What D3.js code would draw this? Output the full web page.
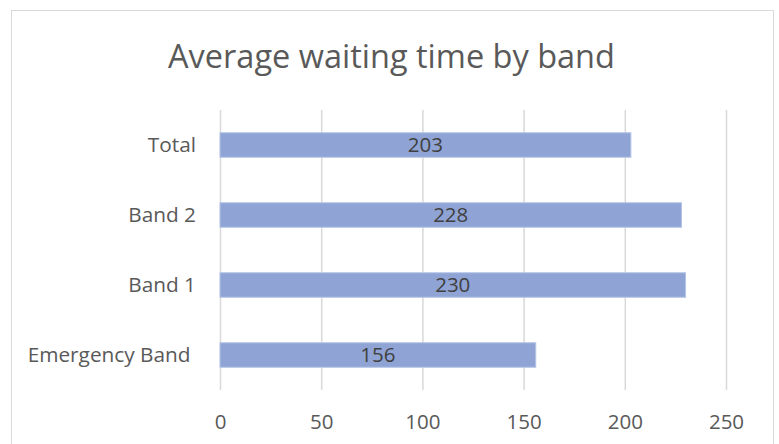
<!DOCTYPE html>
<html>
<head>
<meta charset="utf-8">
<script src="https://cdn.jsdelivr.net/npm/d3@7"></script>
<style>
  html, body { margin: 0; padding: 0; background: #fff; }
  svg text { font-family: "Open Sans", "Noto Sans", sans-serif; white-space: pre; }
</style>
</head>
<body>
<div id="chart"></div>
<script>
const categories = ["Total", "Band 2", "Band 1", "Emergency Band "];
const waitTimes = [203, 228, 230, 156];
const tickValues = [0, 50, 100, 150, 200, 250];

const width = 779;
const height = 444;
const margin = { top: 110, right: 53, bottom: 54, left: 220 };

const svg = d3.select("#chart")
  .append("svg")
  .attr("width", width)
  .attr("height", height);

// chart area frame
svg.append("rect")
  .attr("x", 11.5)
  .attr("y", 10.5)
  .attr("width", 762)
  .attr("height", 460)
  .attr("fill", "none")
  .attr("stroke", "#d9d9d9")
  .attr("stroke-width", 1);

svg.append("text")
  .attr("x", 391.5)
  .attr("y", 68)
  .attr("text-anchor", "middle")
  .attr("fill", "#595959")
  .attr("font-size", 32.5)
  .text("Average waiting time by band");

const x = d3.scaleLinear()
  .domain([0, 250])
  .range([margin.left, width - margin.right]);

const y = d3.scaleBand()
  .domain(categories)
  .range([margin.top, height - margin.bottom])
  .paddingInner(0.65)
  .paddingOuter(0.325);

// vertical gridlines + tick labels
const xAxis = svg.append("g")
  .attr("transform", `translate(0, ${height - margin.bottom})`)
  .call(d3.axisBottom(x)
    .tickValues(tickValues)
    .tickSize(-(height - margin.top - margin.bottom))
    .tickPadding(24));

xAxis.select(".domain").remove();
xAxis.selectAll(".tick line")
  .attr("stroke", "#d9d9d9")
  .attr("stroke-width", 1.5);
xAxis.selectAll(".tick text")
  .attr("fill", "#595959")
  .attr("font-size", 20.5)
  .attr("font-family", "'Open Sans', sans-serif");

// category labels
const yAxis = svg.append("g")
  .attr("transform", `translate(${margin.left}, 0)`)
  .call(d3.axisLeft(y).tickSize(0).tickPadding(24));

yAxis.select(".domain").remove();
yAxis.selectAll(".tick text")
  .attr("fill", "#595959")
  .attr("font-size", 20.8)
  .attr("font-family", "'Open Sans', sans-serif");

const data = categories.map((c, i) => ({ category: c, value: waitTimes[i] }));

svg.append("g")
  .selectAll("rect")
  .data(data)
  .enter()
  .append("rect")
  .attr("x", x(0))
  .attr("y", (d) => y(d.category))
  .attr("width", (d) => x(d.value) - x(0))
  .attr("height", y.bandwidth())
  .attr("fill", "#8fa4d5")
  .attr("stroke", "#b4c4e6")
  .attr("stroke-width", 1);

svg.append("g")
  .selectAll("text")
  .data(data)
  .enter()
  .append("text")
  .attr("x", (d) => (x(0) + x(d.value)) / 2)
  .attr("y", (d) => y(d.category) + y.bandwidth() / 2)
  .attr("dy", "0.35em")
  .attr("text-anchor", "middle")
  .attr("fill", "#404040")
  .attr("font-size", 20.5)
  .text((d) => d.value);
</script>
</body>
</html>
